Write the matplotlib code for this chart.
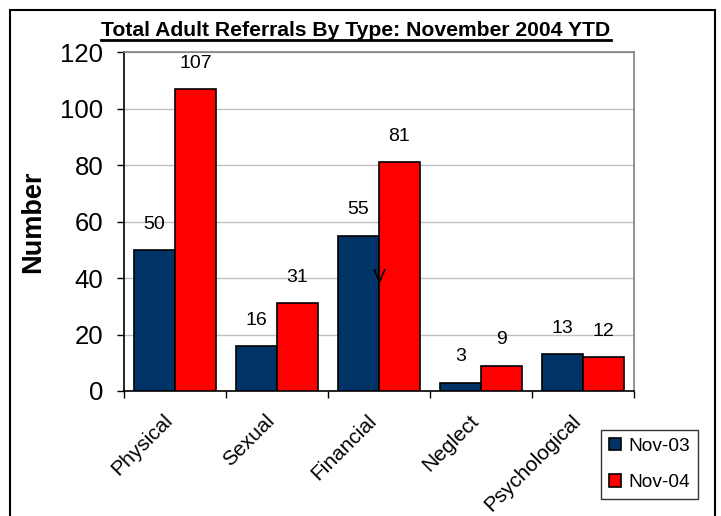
import matplotlib
matplotlib.use("Agg")
import matplotlib.pyplot as plt
import matplotlib.transforms as mtransforms
import numpy as np
from matplotlib.patches import Rectangle
from matplotlib.lines import Line2D

plt.rcParams['font.family'] = ['Liberation Sans', 'DejaVu Sans']

# Data
categories = ["Physical", "Sexual", "Financial", "Neglect", "Psychological"]
nov03 = [50, 16, 55, 3, 13]
nov04 = [107, 31, 81, 9, 12]
series_names = ["Nov-03", "Nov-04"]
yticks = [0, 20, 40, 60, 80, 100, 120]
title = "Total Adult Referrals By Type: November 2004 YTD"

navy = "#003366"
red = "#FF0000"

fig = plt.figure(figsize=(7.21, 5.16), dpi=100)
ax = fig.add_axes([124 / 721, 1 - 391 / 516, 510 / 721, 339 / 516])

x = np.arange(len(categories))
w = 0.4
b1 = ax.bar(x - w / 2, nov03, w, color=navy, edgecolor="black", linewidth=1.2, label=series_names[0], zorder=3)
b2 = ax.bar(x + w / 2, nov04, w, color=red, edgecolor="black", linewidth=1.2, label=series_names[1], zorder=3)

# value labels
for bars, vals in ((b1, nov03), (b2, nov04)):
    for r, v in zip(bars, vals):
        ax.annotate(str(v), (r.get_x() + r.get_width() / 2, v), xytext=(0, 18.5),
                    textcoords="offset points", ha="center", va="center", fontsize=14)

# stray mark from the original chart
ax.text(2, 40, "V", ha="center", va="center", fontsize=14)

ax.set_xlim(-0.5, len(categories) - 0.5)
ax.set_ylim(0, 120)
ax.set_yticks(yticks)
ax.tick_params(axis="y", labelsize=18.5, length=5, direction="out", width=1, pad=10)
ax.yaxis.grid(True, color="#c0c0c0", linewidth=1, zorder=0)

# category separators as major ticks, names as minor ticks
ax.set_xticks(np.arange(len(categories) + 1) - 0.5)
ax.set_xticklabels([])
ax.set_xticks(x, minor=True)
ax.set_xticklabels(categories, minor=True, rotation=45, ha="right", rotation_mode="anchor", fontsize=15)
ax.tick_params(axis="x", which="major", length=5, width=1, direction="out")
ax.tick_params(axis="x", which="minor", length=0, pad=10)
shift = mtransforms.ScaledTranslation(-12 / 100, -6 / 100, fig.dpi_scale_trans)
for lab in ax.get_xticklabels(minor=True):
    lab.set_transform(lab.get_transform() + shift)

for s in ("top", "right"):
    ax.spines[s].set_color("#808080")
    ax.spines[s].set_linewidth(1.2)
for s in ("left", "bottom"):
    ax.spines[s].set_color("black")
    ax.spines[s].set_linewidth(1.2)

ax.set_ylabel("Number", fontsize=19.5, fontweight="bold", labelpad=10)

t = fig.text(356 / 721, 1 - 36 / 516, title, ha="center", va="baseline", fontsize=15.2, fontweight="bold")

leg = ax.legend(loc="upper left", bbox_to_anchor=(601 / 721, 1 - 430 / 516), bbox_transform=fig.transFigure,
                fontsize=13.8, frameon=True, fancybox=False, edgecolor="black", borderaxespad=0,
                handlelength=0.65, handleheight=0.65, handletextpad=0.4, labelspacing=1.0, borderpad=0.4)
leg.get_frame().set_linewidth(1)

# figure border
fig.patches.append(Rectangle((10 / 721, -0.02), 705 / 721, 1 - 10 / 516 + 0.02, transform=fig.transFigure,
                             fill=False, edgecolor="black", linewidth=1.5))

# underline the title
fig.canvas.draw()
bb = t.get_window_extent(fig.canvas.get_renderer())
fig.lines.append(Line2D([bb.x0 / 721, bb.x1 / 721], [1 - 40 / 516, 1 - 40 / 516],
                        transform=fig.transFigure, color="black", linewidth=2))

fig.savefig("out.png", dpi=100)
